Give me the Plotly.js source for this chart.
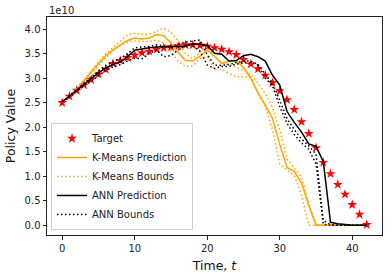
<!DOCTYPE html>
<html>
<head>
<meta charset="utf-8">
<script src="https://cdn.plot.ly/plotly-3.0.1.min.js"></script>
<style>html,body{margin:0;padding:0;background:#fff;}#chart{width:392px;height:278px;}</style>
</head>
<body>
<div id="chart"></div>
<script>
// values in units of 1e10
const t = [0,1,2,3,4,5,6,7,8,9,10,11,12,13,14,15,16,17,18,19,20,21,22,23,24,25,26,27,28,29,30,31,32,33,34,35,36,37,38,39,40,41,42];
const target = [2.50,2.63,2.75,2.86,2.97,3.08,3.18,3.30,3.36,3.42,3.47,3.52,3.55,3.59,3.62,3.64,3.66,3.68,3.68,3.67,3.65,3.62,3.59,3.54,3.48,3.38,3.29,3.19,3.06,2.91,2.74,2.56,2.36,2.11,1.87,1.58,1.28,1.05,0.83,0.63,0.42,0.22,0.01];
const kmPred = [2.52,2.64,2.78,2.96,3.13,3.30,3.46,3.58,3.68,3.77,3.82,3.80,3.82,3.89,3.87,3.72,3.52,3.36,3.35,3.45,3.57,3.45,3.30,3.35,3.36,3.22,3.00,2.70,2.45,2.18,1.65,1.18,1.10,0.86,0.40,0.0,0,0,0,0,0,0,0];
const kmUpper = [2.52,2.64,2.78,2.97,3.15,3.33,3.50,3.63,3.77,3.88,3.92,3.90,3.90,3.96,4.02,3.94,3.75,3.50,3.40,3.52,3.65,3.45,3.32,3.28,3.22,3.16,3.08,2.90,2.68,2.40,1.95,1.35,1.17,0.98,0.45,0.02,0,0,0,0,0,0,0];
const kmLower = [2.52,2.63,2.76,2.93,3.09,3.25,3.42,3.56,3.67,3.74,3.76,3.75,3.75,3.78,3.72,3.55,3.35,3.24,3.25,3.40,3.45,3.17,3.18,3.10,3.03,3.03,3.02,2.70,2.42,1.95,1.25,1.12,1.02,0.62,0.0,0,0,0,0,0,0,0,0];
const annPred = [2.52,2.64,2.76,2.88,2.99,3.11,3.21,3.28,3.33,3.44,3.57,3.60,3.62,3.64,3.65,3.65,3.65,3.66,3.70,3.70,3.67,3.51,3.49,3.35,3.36,3.46,3.49,3.44,3.35,3.06,2.86,2.32,2.10,1.90,1.66,1.61,1.30,0.06,0.03,0.01,0,0,0];
const annUpper = [2.52,2.65,2.78,2.90,3.02,3.15,3.26,3.33,3.40,3.50,3.62,3.64,3.65,3.68,3.66,3.62,3.70,3.74,3.76,3.78,3.48,3.27,3.26,3.28,3.32,3.35,3.35,3.28,3.08,2.90,2.55,2.18,1.95,1.76,1.62,1.45,0.10,0.01,0,0,0,0,0];
const annLower = [2.52,2.62,2.74,2.85,2.95,3.05,3.16,3.23,3.28,3.35,3.41,3.40,3.50,3.58,3.44,3.46,3.58,3.68,3.66,3.55,3.27,3.20,3.24,3.24,3.29,3.31,3.32,3.27,3.00,2.85,2.42,2.08,1.85,1.68,1.55,1.25,0.02,0,0,0,0,0,0];
const xTicks = [0,10,20,30,40];
const yTicks = [0,0.5,1,1.5,2,2.5,3,3.5,4];

const orange = '#FFA500';
const dots = '1.5px,2.5px';
const traces = [
  {x:t, y:target, name:'Target', mode:'markers', type:'scatter',
   marker:{symbol:'star', color:'#FF0000', size:7.5, line:{width:0}}},
  {x:t, y:kmPred, name:'K-Means Prediction', mode:'lines', line:{color:orange, width:1.5}},
  {x:t, y:kmUpper, name:'K-Means Bounds', mode:'lines', line:{color:orange, width:1.5, dash:dots}, legendgroup:'kmb'},
  {x:t, y:kmLower, name:'K-Means Bounds', mode:'lines', line:{color:orange, width:1.5, dash:dots}, legendgroup:'kmb', showlegend:false},
  {x:t, y:annPred, name:'ANN Prediction', mode:'lines', line:{color:'#000000', width:1.5}},
  {x:t, y:annUpper, name:'ANN Bounds', mode:'lines', line:{color:'#000000', width:1.5, dash:dots}, legendgroup:'annb'},
  {x:t, y:annLower, name:'ANN Bounds', mode:'lines', line:{color:'#000000', width:1.5, dash:dots}, legendgroup:'annb', showlegend:false}
];
const font = {family:'DejaVu Sans', size:10, color:'#222'};
const layout = {
  width:392, height:278,
  margin:{l:47, r:10, t:17, b:43},
  paper_bgcolor:'#fff', plot_bgcolor:'#fff',
  font:font,
  showlegend:true,
  xaxis:{range:[-2.1,44.1], tickvals:xTicks, ticktext:xTicks.map(String), showgrid:false, zeroline:false,
    showline:true, mirror:true, linecolor:'#222', linewidth:1, ticks:'outside', ticklen:3.5, tickcolor:'#222',
    tickfont:font, title:{text:'Time, <i>t</i>', font:{family:'DejaVu Sans', size:12.5, color:'#111'}, standoff:8}},
  yaxis:{range:[-0.2,4.25], tickvals:yTicks, tickformat:'.1f', showgrid:false, zeroline:false,
    showline:true, mirror:true, linecolor:'#222', linewidth:1, ticks:'outside', ticklen:3.5, tickcolor:'#222',
    tickfont:font, title:{text:'Policy Value', font:{family:'DejaVu Sans', size:12.5, color:'#111'}, standoff:6}},
  legend:{x:0.012, y:0.023, xanchor:'left', yanchor:'bottom', bgcolor:'rgba(255,255,255,0.8)',
    bordercolor:'#ccc', borderwidth:1, font:{family:'DejaVu Sans', size:10, color:'#222'}, tracegroupgap:0},
  annotations:[{text:'1e10', xref:'paper', yref:'paper', x:0, y:1, xanchor:'left', yanchor:'bottom', showarrow:false,
    font:{family:'DejaVu Sans', size:10, color:'#222'}, yshift:-1}]
};
Plotly.newPlot('chart', traces, layout, {displayModeBar:false, staticPlot:true});
</script>
</body>
</html>
